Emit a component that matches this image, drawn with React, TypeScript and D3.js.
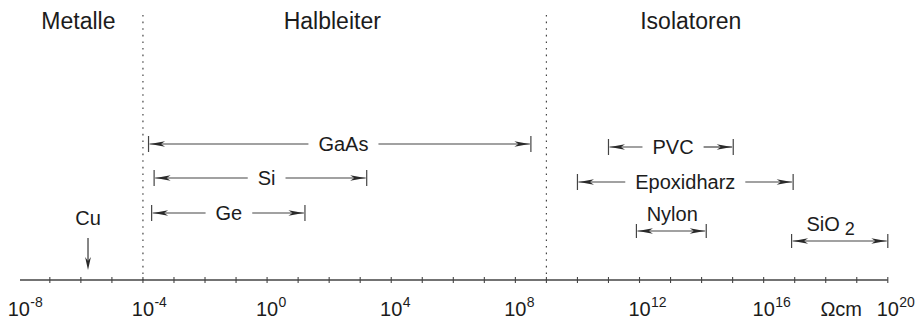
import React from "react";
import * as d3 from "d3";

// ---- data (exponents of resistivity in Ohm*cm) ----
const regionNames = ["Metalle", "Halbleiter", "Isolatoren"];
const regionLabelExp = [-6.08, 2.1, 13.65];
const regionBounds = [-4, 9];

const materials = ["GaAs", "Si", "Ge", "PVC", "Epoxidharz", "Nylon", "SiO"];
const lowExp = [-3.82, -3.64, -3.72, 11.0, 10.0, 11.9, 16.9];
const highExp = [8.5, 3.21, 1.22, 15.02, 16.95, 14.15, 20.0];
const labelShiftExp = [0.12, 0.2, 0.02, 0.07, 0.0, 0.03, -0.1];
const labelAbove = [false, false, false, false, false, true, true];
const subscripts = ["", "", "", "", "", "", "2"];

const cuExp = -5.77;
const tickExps = d3.range(-7, 21);
const labelExps = [-8, -4, 0, 4, 8, 12, 16, 20];
const unitLabel = "\u03a9cm";

// ---- layout ----
const W = 918;
const H = 322;
const axisY = 280;
const rowY = [144, 178, 213, 147, 182, 231, 241];
const ink = "#1c1c1c";
const lineCol = "#444";
const headCol = "#2a2a2a";
const font = "'Liberation Sans', Arial, Helvetica, sans-serif";

const x = d3
  .scaleLog()
  .domain([1e-8, 1e20])
  .range([18.8, 887.8]);
const xe = (e: number) => x(Math.pow(10, e));

function arrowHead(tipX: number, y: number, dir: number) {
  // dir = -1 points left, +1 points right
  const L = 15;
  const hw = 2.8;
  const b = tipX - dir * L;
  const n = tipX - dir * (L - 4);
  return `M${tipX},${y}L${b},${y - hw}L${n},${y}L${b},${y + hw}Z`;
}

export default function App() {
  const textW = (s: string, size: number) => {
    // approximate Arial widths
    const w: Record<string, number> = {
      G: 0.778, a: 0.556, A: 0.667, s: 0.5, S: 0.667, i: 0.222, e: 0.556,
      P: 0.667, V: 0.667, C: 0.722, E: 0.667, p: 0.556, o: 0.556, x: 0.5,
      d: 0.556, h: 0.556, r: 0.333, z: 0.5, N: 0.722, y: 0.5, l: 0.222, n: 0.556,
      O: 0.778,
    };
    return s.split("").reduce((acc, c) => acc + (w[c] ?? 0.556), 0) * size;
  };

  return (
    <svg
      width={W}
      height={H}
      style={{ position: "absolute", left: 0, top: 0, background: "#fff" }}
      fontFamily={font}
    >
      {/* region labels */}
      {regionNames.map((r, i) => (
        <text key={r} x={xe(regionLabelExp[i])} y={29} fontSize={23} textAnchor="middle" fill={ink}>
          {r}
        </text>
      ))}
      {/* region boundaries */}
      {regionBounds.map((b) => (
        <line
          key={b}
          x1={xe(b)}
          x2={xe(b)}
          y1={15}
          y2={axisY}
          stroke={lineCol}
          strokeWidth={1.2}
          strokeDasharray="1.6,5"
        />
      ))}

      {/* axis */}
      <line x1={20} x2={xe(20)} y1={axisY} y2={axisY} stroke={lineCol} strokeWidth={1.3} />
      {tickExps.map((e) => (
        <line key={e} x1={xe(e)} x2={xe(e)} y1={axisY - 3} y2={axisY + 3} stroke={lineCol} strokeWidth={1.1} />
      ))}
      {labelExps.map((e) => (
        <g key={e}>
          <text x={xe(e)} y={316} fontSize={20} textAnchor="middle" fill={ink}>
            10
          </text>
          <text x={xe(e) + 11.5} y={307} fontSize={14} fill={ink}>
            {String(e)}
          </text>
        </g>
      ))}
      <text x={xe(18.5)} y={316} fontSize={20} textAnchor="middle" fill={ink}>
        {unitLabel}
      </text>

      {/* Cu marker */}
      <text x={xe(cuExp)} y={225} fontSize={20} textAnchor="middle" fill={ink}>
        Cu
      </text>
      <line x1={xe(cuExp)} x2={xe(cuExp)} y1={238} y2={262} stroke={lineCol} strokeWidth={1.3} />
      <path
        d={`M${xe(cuExp)},${270}L${xe(cuExp) - 2.9},${257}L${xe(cuExp)},${261}L${xe(cuExp) + 2.9},${257}Z`}
        fill={headCol}
      />

      {/* material ranges */}
      {materials.map((m, i) => {
        const x0 = xe(lowExp[i]);
        const x1 = xe(highExp[i]);
        const y = rowY[i];
        const cx = xe((lowExp[i] + highExp[i]) / 2 + labelShiftExp[i]);
        const tickH = i < 5 ? 8 : 7;
        const tw = textW(m, 20);
        const gap = 10;
        const segs: [number, number][] = labelAbove[i]
          ? [[x0 + 1, x1 - 1]]
          : [
              [x0 + 1, cx - tw / 2 - gap],
              [cx + tw / 2 + gap, x1 - 1],
            ];
        return (
          <g key={m}>
            <line x1={x0} x2={x0} y1={y - tickH} y2={y + tickH} stroke={lineCol} strokeWidth={1.2} />
            <line x1={x1} x2={x1} y1={y - tickH} y2={y + tickH} stroke={lineCol} strokeWidth={1.2} />
            {segs.map(([a, b], k) => (
              <line key={k} x1={a} x2={b} y1={y} y2={y} stroke={lineCol} strokeWidth={1.2} />
            ))}
            <path d={arrowHead(x0 + 1.5, y, -1)} fill={headCol} />
            <path d={arrowHead(x1 - 1.5, y, 1)} fill={headCol} />
            {labelAbove[i] ? (
              <text x={cx - (subscripts[i] ? 6 : 0)} y={y - 10} fontSize={20} textAnchor="middle" fill={ink}>
                {m}
                {subscripts[i] ? (
                  <tspan dx={5} dy={4} fontSize={18}>
                    {subscripts[i]}
                  </tspan>
                ) : null}
              </text>
            ) : (
              <text x={cx} y={y + 7} fontSize={20} textAnchor="middle" fill={ink}>
                {m}
              </text>
            )}
          </g>
        );
      })}
    </svg>
  );
}
